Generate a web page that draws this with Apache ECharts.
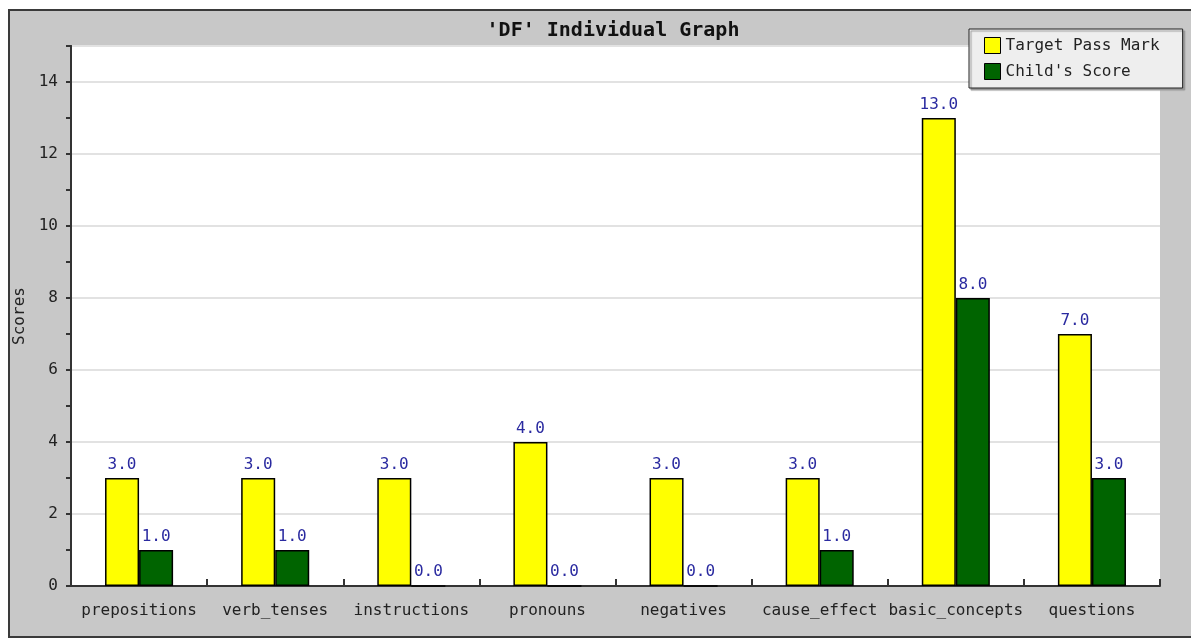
<!DOCTYPE html>
<html>
<head>
<meta charset="utf-8">
<script src="https://cdn.jsdelivr.net/npm/echarts@6/dist/echarts.min.js"></script>
<style>
  html, body { margin: 0; padding: 0; background: #fff; overflow: hidden; }
  .frame {
    position: absolute; left: 8px; top: 9px; width: 1183px; height: 629px;
    background: #c8c8c8; border: 2px solid #3a3a3a; border-right: none; box-sizing: border-box;
  }
  #chart { position: absolute; left: 0; top: 0; width: 1191px; height: 641px; }
</style>
</head>
<body>
<div class="frame"></div>
<div id="chart"></div>
<script>
  const categories = ['prepositions', 'verb_tenses', 'instructions', 'pronouns', 'negatives', 'cause_effect', 'basic_concepts', 'questions']
  const targetPassMark = [3, 3, 3, 4, 3, 3, 13, 7]
  const childScore = [1, 1, 0, 0, 0, 1, 8, 3]

  const mono = 'DejaVu Sans Mono'
  const labelColor = '#2a2aa0'

  const chart = echarts.init(document.getElementById('chart'))

  const valueLabel = {
    show: true,
    position: 'top',
    distance: 5,
    color: labelColor,
    fontFamily: mono,
    fontSize: 16,
    formatter: p => p.value.toFixed(1)
  }

  chart.setOption({
    animation: false,
    title: {
      text: "'DF' Individual Graph",
      left: 608,
      top: 16,
      textAlign: 'center',
      textStyle: {
        fontFamily: mono,
        fontWeight: 'bold',
        fontSize: 20,
        color: '#111'
      }
    },
    legend: {
      orient: 'vertical',
      left: 969,
      top: 29,
      padding: [8, 23, 8, 15],
      itemWidth: 16,
      itemHeight: 16,
      itemGap: 9,
      itemTextGap: 12,
      icon: 'rect',
      backgroundColor: '#eeeeee',
      borderColor: '#222',
      borderWidth: 1,
      shadowColor: '#999',
      shadowBlur: 1,
      shadowOffsetX: 2,
      shadowOffsetY: 2,
      textStyle: {
        fontFamily: mono,
        fontSize: 16,
        color: '#222'
      },
      itemStyle: { borderColor: '#000', borderWidth: 1 }
    },
    grid: {
      left: 71,
      right: 31,
      top: 46,
      bottom: 55,
      show: true,
      backgroundColor: '#fff',
      borderWidth: 0
    },
    xAxis: {
      type: 'category',
      data: categories,
      axisLine: { lineStyle: { color: '#333', width: 2 } },
      axisTick: { show: true, inside: true, interval: 0, length: 7, lineStyle: { color: '#333', width: 2 } },
      axisLabel: {
        interval: 0,
        margin: 17,
        color: '#222',
        fontFamily: mono,
        fontSize: 16
      }
    },
    yAxis: [
      {
        type: 'value',
        min: 0,
        max: 15,
        interval: 2,
        name: 'Scores',
        nameLocation: 'middle',
        nameGap: 38,
        nameTextStyle: { fontFamily: mono, fontSize: 16, color: '#222' },
        axisLine: { show: true, lineStyle: { color: '#333', width: 2 } },
        axisTick: { show: false },
        axisLabel: {
          margin: 13,
          color: '#222',
          fontFamily: mono,
          fontSize: 16,
          showMaxLabel: false
        },
        splitLine: { show: true, lineStyle: { color: '#e2e2e2', width: 2 } }
      },
      {
        type: 'value',
        position: 'left',
        min: 0,
        max: 15,
        interval: 1,
        axisLine: { show: true, lineStyle: { color: '#333', width: 2 } },
        axisTick: { show: true, length: 5, lineStyle: { color: '#333', width: 2 } },
        axisLabel: { show: false },
        splitLine: { show: false }
      }
    ],
    series: [
      {
        name: 'Target Pass Mark',
        type: 'bar',
        data: targetPassMark,
        barGap: '0%',
        barCategoryGap: '50%',
        itemStyle: { color: '#ffff00', borderColor: '#000', borderWidth: 1.5 },
        label: valueLabel
      },
      {
        name: "Child's Score",
        type: 'bar',
        data: childScore,
        itemStyle: { color: '#006400', borderColor: '#000', borderWidth: 1.5 },
        label: valueLabel
      }
    ]
  })

  window.addEventListener('resize', () => chart.resize())
</script>
</body>
</html>
